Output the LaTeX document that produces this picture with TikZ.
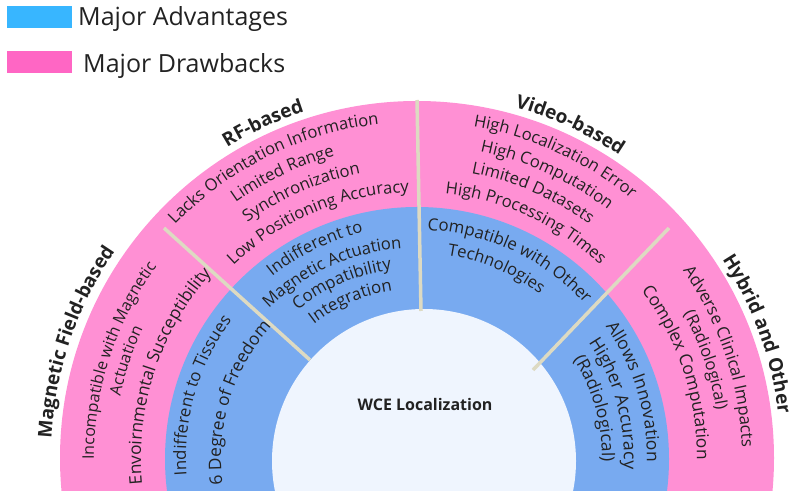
\documentclass[tikz,border=0pt]{standalone}
\usepackage{fontspec}
\setmainfont{Open Sans}
\usetikzlibrary{decorations.text}
\definecolor{legblue}{HTML}{38B6FF}
\definecolor{legpink}{HTML}{FF66C4}
\definecolor{ringpink}{HTML}{FF90D4}
\definecolor{ringblue}{HTML}{78AAF0}
\definecolor{core}{HTML}{EFF5FE}
\definecolor{divider}{HTML}{DDDAC2}
\definecolor{ink}{HTML}{222222}
% #1 radius, #2 mid angle, #3 font size, #4 text
\newcommand\arclabel[4]{%
  \path[decorate, decoration={text along path, text align=center,
        text={|\fontsize{#3}{#3}\selectfont\color{ink}|#4}}]
    ({417+#1*cos(#2+70)},{40+#1*sin(#2+70)})
    arc[start angle=#2+70, end angle=#2-70, radius=#1];}
% bold heading variant
\newcommand\archead[3]{%
  \path[decorate, decoration={text along path, text align=center,
        text={|\fontsize{19}{19}\selectfont\bfseries\color{ink}|#3}}]
    ({417+#1*cos(#2+70)},{40+#1*sin(#2+70)})
    arc[start angle=#2+70, end angle=#2-70, radius=#1];}
\begin{document}
\begin{tikzpicture}[x=1pt,y=1pt,
  legbox/.style={minimum width=65pt, minimum height=22pt, inner sep=0pt},
  legtext/.style={anchor=base west, inner sep=0pt, text=ink, font=\fontsize{25}{25}\selectfont},
  divline/.style={draw=divider, line width=3.5pt}]
\useasboundingbox (0,0) rectangle (798,498);
\coordinate (C) at (417,40);
\begin{scope}
  \clip (0,7) rectangle (798,498);
  \fill[ringpink] (417,40) circle[radius=357];
  \fill[ringblue] (417,39) circle[radius=252];
  \fill[core] (424,37) circle[radius=152];
\end{scope}
% dividers
\coordinate (d1a) at (164,270); \coordinate (d1b) at (310,138);
\coordinate (d2a) at (417,398); \coordinate (d2b) at (421,187);
\coordinate (d3a) at (669,270); \coordinate (d3b) at (533,128);
\draw[divline] (d1a) -- (d1b);
\draw[divline] (d2a) -- (d2b);
\draw[divline] (d3a) -- (d3b);
% legend
\node[legbox, fill=legblue] (kA) at (39.5,481) {};
\node[legbox, fill=legpink] (kD) at (39.5,435.5) {};
\node[legtext] (tA) at (78,472) {Major Advantages};
\node[legtext] (tD) at (83,425) {Major Drawbacks};
% centre
\node[font=\fontsize{16}{16}\selectfont\bfseries, text=ink] (wce) at (425,93) {WCE Localization};
% headings
\archead{366}{161.3}{Magnetic Field-based}
\archead{364}{114.7}{RF-based}
\archead{364}{65.3}{Video-based}
\archead{364}{20}{Hybrid and Other}
% drawbacks
\arclabel{323}{162}{16}{Incompatible with Magnetic}
\arclabel{303}{161.5}{16}{Actuation}
\arclabel{276}{161.8}{17.3}{Envoirnmental Susceptibility}
\arclabel{336}{116.3}{16.6}{Lacks Orientation Information}
\arclabel{313}{115.3}{16.6}{Limited Range}
\arclabel{290}{113.5}{16.6}{Synchronization}
\arclabel{266}{112.7}{16.6}{Low Positioning Accuracy}
\arclabel{336}{65.4}{16.6}{High Localization Error}
\arclabel{313}{65.4}{16.6}{High Computation}
\arclabel{290}{66.4}{16.6}{Limited Datasets}
\arclabel{266}{65.2}{16.6}{High Processing Times}
\arclabel{325}{18.5}{16.8}{Adverse Clinical Impacts}
\arclabel{303}{18.7}{16.6}{(Radiological)}
\arclabel{280}{18.2}{17.3}{Complex Computation}
% advantages
\arclabel{231}{163.8}{16.8}{Indifferent to Tissues}
\arclabel{196}{162.8}{17.3}{6 Degree of Freedom}
\arclabel{232}{116}{16.6}{Indifferent to}
\arclabel{210}{114.5}{16.6}{Magnetic Actuation}
\arclabel{190}{113.3}{16.8}{Compatibility}
\arclabel{169}{113}{16.8}{Integration}
\arclabel{228}{65}{16.8}{Compatible with Other}
\arclabel{205}{67.3}{16.6}{Technologies}
\arclabel{230}{17}{17.5}{Allows Innovation}
\arclabel{207}{15.5}{17.8}{Higher Accuracy}
\arclabel{185}{15.6}{17.5}{(Radiological)}
\end{tikzpicture}
\end{document}
